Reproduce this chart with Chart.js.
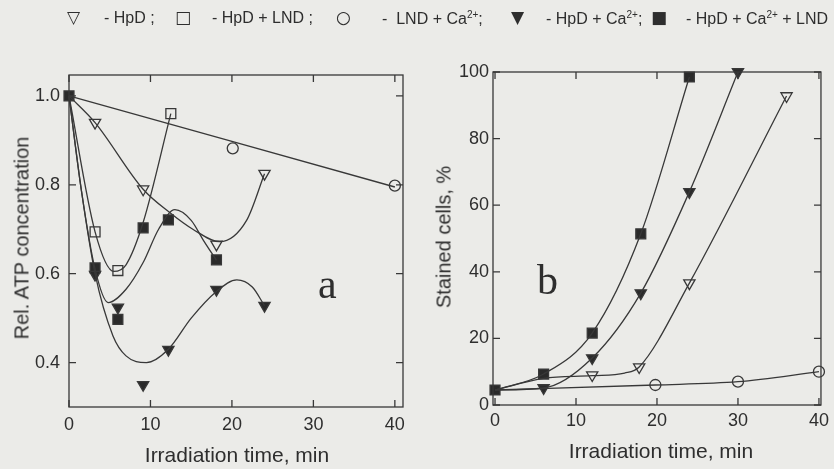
<!DOCTYPE html>
<html>
<head>
<meta charset="utf-8">
<script src="https://cdn.jsdelivr.net/npm/chart.js@4.4.1/dist/chart.umd.min.js"></script>
<style>
  html, body { margin: 0; padding: 0; }
  body { width: 834px; height: 469px; background: #ebebe8; position: relative; overflow: hidden;
         font-family: "Liberation Sans", Arial, sans-serif; color: #2e2e2e; }
  canvas { position: absolute; top: 0; }
  #chartA { left: 0; }
  #chartB { left: 420px; }
  .txt { position: absolute; white-space: nowrap; }
  .legend { top: 9px; font-size: 16px; }
  .sym { font-family: "DejaVu Sans", sans-serif; font-size: 17px; top: 7px; }
  .axtitle { font-size: 20px; }
  .xtitle { font-size: 21px; }
  .panel { font-family: "Liberation Serif", "DejaVu Serif", serif; font-size: 42px; }
</style>
</head>
<body>
<canvas id="chartA" width="417" height="469"></canvas>
<canvas id="chartB" width="414" height="469"></canvas>

<div class="txt legend sym" style="left:67px">▽</div>
<div class="txt legend" style="left:104px">- HpD ;</div>
<div class="txt legend sym" style="left:175px">□</div>
<div class="txt legend" style="left:212px">- HpD + LND ;</div>
<div class="txt legend sym" style="left:336px">○</div>
<div class="txt legend" style="left:382px">- &nbsp;LND + Ca<sup style="font-size:10px">2+</sup>;</div>
<div class="txt legend sym" style="left:511px">▼</div>
<div class="txt legend" style="left:546px">- HpD + Ca<sup style="font-size:10px">2+</sup>;</div>
<div class="txt legend sym" style="left:651px">■</div>
<div class="txt legend" style="left:686px">- HpD + Ca<sup style="font-size:10px">2+</sup> + LND</div>

<div class="txt axtitle" style="left:22px;top:238px;transform:translate(-50%,-50%) rotate(-90deg)">Rel. ATP concentration</div>
<div class="txt axtitle" style="left:444px;top:237px;transform:translate(-50%,-50%) rotate(-90deg)">Stained cells, %</div>
<div class="txt xtitle" style="left:237px;top:455px;transform:translate(-50%,-50%)">Irradiation time, min</div>
<div class="txt xtitle" style="left:661px;top:451px;transform:translate(-50%,-50%)">Irradiation time, min</div>
<div class="txt panel" style="left:318px;top:260px">a</div>
<div class="txt panel" style="left:537px;top:256px">b</div>

<script>
// Panel a: relative ATP concentration vs irradiation time
const xTicksA = [0, 10, 20, 30, 40];
const yTicksA = [0.4, 0.6, 0.8, 1.0];

const tA_hpd = [3.2, 9.1, 18.1, 24];
const atp_hpd = [0.94, 0.79, 0.666, 0.825];
const tA_hpdLnd = [3.2, 6, 12.5];
const atp_hpdLnd = [0.694, 0.607, 0.96];
const tA_lndCa = [20.1, 40];
const atp_lndCa = [0.882, 0.798];
const tA_hpdCa = [3.2, 6, 9.1, 12.2, 18.1, 24];
const atp_hpdCa = [0.598, 0.524, 0.35, 0.429, 0.564, 0.528];
const tA_all = [0, 3.2, 6, 9.1, 12.2, 18.1];
const atp_all = [1.0, 0.613, 0.497, 0.703, 0.721, 0.631];

// drawn curves
const fitA_hpd_t = [0, 3.2, 9.1, 12.4, 15.2, 18.5, 21.8, 24];
const fitA_hpd_y = [1.0, 0.94, 0.79, 0.737, 0.70, 0.672, 0.72, 0.825];
const fitA_hpdLnd_t = [0, 3.2, 5.5, 7, 9.1, 12.5];
const fitA_hpdLnd_y = [1.0, 0.694, 0.605, 0.62, 0.715, 0.96];
const fitA_lndCa_t = [0, 40];
const fitA_lndCa_y = [1.0, 0.795];
const fitA_hpdCa_t = [0, 1.5, 3.2, 5.4, 7, 9.5, 12.2, 15, 18.1, 20.6, 22.5, 24];
const fitA_hpdCa_y = [1.0, 0.79, 0.6, 0.46, 0.415, 0.40, 0.43, 0.50, 0.56, 0.586, 0.57, 0.528];
const fitA_all_t = [0, 1.5, 3.2, 4.8, 7, 9.1, 11, 13, 15, 16.5, 18.1];
const fitA_all_y = [1.0, 0.79, 0.61, 0.535, 0.565, 0.625, 0.70, 0.744, 0.72, 0.675, 0.63];

// Panel b: stained cells vs irradiation time
const xTicksB = [0, 10, 20, 30, 40];
const yTicksB = [0, 20, 40, 60, 80, 100];

const tB_hpd = [12, 17.8, 24, 36];
const st_hpd = [9.0, 11.4, 36.6, 92.8];
const fitB_hpd_t = [0, 6, 12, 16, 17.8, 24, 36];
const fitB_hpd_y = [4.5, 8.0, 8.8, 9.6, 11.4, 36.6, 92.8];
const tB_lndCa = [19.8, 30, 40];
const st_lndCa = [6.0, 7.0, 10.0];
const fitB_lndCa_t = [0, 19.8, 30, 40];
const fitB_lndCa_y = [4.5, 6.0, 7.0, 10.0];
const tB_hpdCa = [6, 12, 18, 24, 30];
const st_hpdCa = [5.1, 14.1, 33.6, 64, 100];
const fitB_hpdCa_t = [0, 6, 12, 18, 24, 30];
const fitB_hpdCa_y = [4.5, 5.1, 14.1, 33.6, 64, 100];
const tB_all = [0, 6, 12, 18, 24];
const st_all = [4.5, 9.3, 21.6, 51.4, 98.5];

const ink = '#383838';
const paper = '#ebebe8';

function pts(xs, ys) {
    return xs.map((x, i) => ({ x: x, y: ys[i] }));
}

function curve(xs, ys) {
    return {
        data: pts(xs, ys),
        showLine: true,
        borderColor: ink,
        borderWidth: 1.3,
        pointRadius: 0,
        cubicInterpolationMode: 'monotone',
        clip: false
    };
}

function marks(xs, ys, style, filled, radius, rotation) {
    return {
        data: pts(xs, ys),
        showLine: false,
        pointStyle: style,
        pointRadius: radius,
        pointRotation: rotation || 0,
        pointBorderWidth: 1.3,
        pointBorderColor: ink,
        pointBackgroundColor: filled ? '#2a2a2a' : paper,
        clip: false
    };
}

// inward tick marks on all four sides plus the frame
const frameTicks = {
    id: 'frameTicks',
    afterDraw(chart) {
        const { ctx, chartArea: a, scales } = chart;
        const len = 7;
        ctx.save();
        ctx.strokeStyle = ink;
        ctx.lineWidth = 1.3;
        ctx.strokeRect(a.left, a.top, a.right - a.left, a.bottom - a.top);
        ctx.beginPath();
        scales.x.ticks.forEach(t => {
            const px = scales.x.getPixelForValue(t.value);
            ctx.moveTo(px, a.bottom); ctx.lineTo(px, a.bottom - len);
            ctx.moveTo(px, a.top); ctx.lineTo(px, a.top + len);
        });
        scales.y.ticks.forEach(t => {
            const py = scales.y.getPixelForValue(t.value);
            ctx.moveTo(a.left, py); ctx.lineTo(a.left + len, py);
            ctx.moveTo(a.right, py); ctx.lineTo(a.right - len, py);
        });
        ctx.stroke();
        ctx.restore();
    }
};

function makeOptions(cfg) {
    return {
        responsive: false,
        animation: false,
        layout: { padding: cfg.padding },
        plugins: { legend: { display: false }, tooltip: { enabled: false } },
        scales: {
            x: {
                type: 'linear',
                min: cfg.xMin, max: cfg.xMax,
                grid: { display: false, drawTicks: false },
                border: { display: false },
                afterBuildTicks: s => { s.ticks = cfg.xTicks.map(v => ({ value: v })); },
                afterFit: s => { s.height = cfg.xHeight; },
                ticks: {
                    padding: cfg.xPad,
                    color: '#2e2e2e',
                    font: { family: 'Liberation Sans', size: 18 },
                    maxRotation: 0
                }
            },
            y: {
                type: 'linear',
                min: cfg.yMin, max: cfg.yMax,
                grid: { display: false, drawTicks: false },
                border: { display: false },
                afterBuildTicks: s => { s.ticks = cfg.yTicks.map(v => ({ value: v })); },
                afterFit: s => { s.width = cfg.yWidth; },
                ticks: {
                    padding: cfg.yPad,
                    color: '#2e2e2e',
                    font: { family: 'Liberation Sans', size: 18 },
                    callback: cfg.yFmt
                }
            }
        }
    };
}

new Chart(document.getElementById('chartA'), {
    type: 'scatter',
    data: {
        datasets: [
            curve(fitA_lndCa_t, fitA_lndCa_y),
            curve(fitA_hpd_t, fitA_hpd_y),
            curve(fitA_hpdLnd_t, fitA_hpdLnd_y),
            curve(fitA_hpdCa_t, fitA_hpdCa_y),
            curve(fitA_all_t, fitA_all_y),
            marks(tA_lndCa, atp_lndCa, 'circle', false, 5.5),
            marks(tA_hpd, atp_hpd, 'triangle', false, 6.5, 180),
            marks(tA_hpdLnd, atp_hpdLnd, 'rect', false, 7),
            marks(tA_hpdCa, atp_hpdCa, 'triangle', true, 6.5, 180),
            marks(tA_all, atp_all, 'rect', true, 7)
        ]
    },
    options: makeOptions({
        padding: { top: 75, right: 14, left: 0, bottom: 0 },
        xMin: 0, xMax: 41, xTicks: xTicksA, xHeight: 62, xPad: 7,
        yMin: 0.3, yMax: 1.047, yTicks: yTicksA, yWidth: 69, yPad: 9,
        yFmt: v => v.toFixed(1)
    }),
    plugins: [frameTicks]
});

new Chart(document.getElementById('chartB'), {
    type: 'scatter',
    data: {
        datasets: [
            curve(fitB_lndCa_t, fitB_lndCa_y),
            curve(fitB_hpd_t, fitB_hpd_y),
            curve(fitB_hpdCa_t, fitB_hpdCa_y),
            curve(tB_all, st_all),
            marks(tB_lndCa, st_lndCa, 'circle', false, 5.5),
            marks(tB_hpd, st_hpd, 'triangle', false, 6.5, 180),
            marks(tB_hpdCa, st_hpdCa, 'triangle', true, 6.5, 180),
            marks(tB_all, st_all, 'rect', true, 7)
        ]
    },
    options: makeOptions({
        padding: { top: 72, right: 7, left: 0, bottom: 0 },
        xMin: -0.25, xMax: 40.25, xTicks: xTicksB, xHeight: 64, xPad: 5,
        yMin: 0, yMax: 100, yTicks: yTicksB, yWidth: 73, yPad: 4,
        yFmt: v => String(v)
    }),
    plugins: [frameTicks]
});
</script>
</body>
</html>
